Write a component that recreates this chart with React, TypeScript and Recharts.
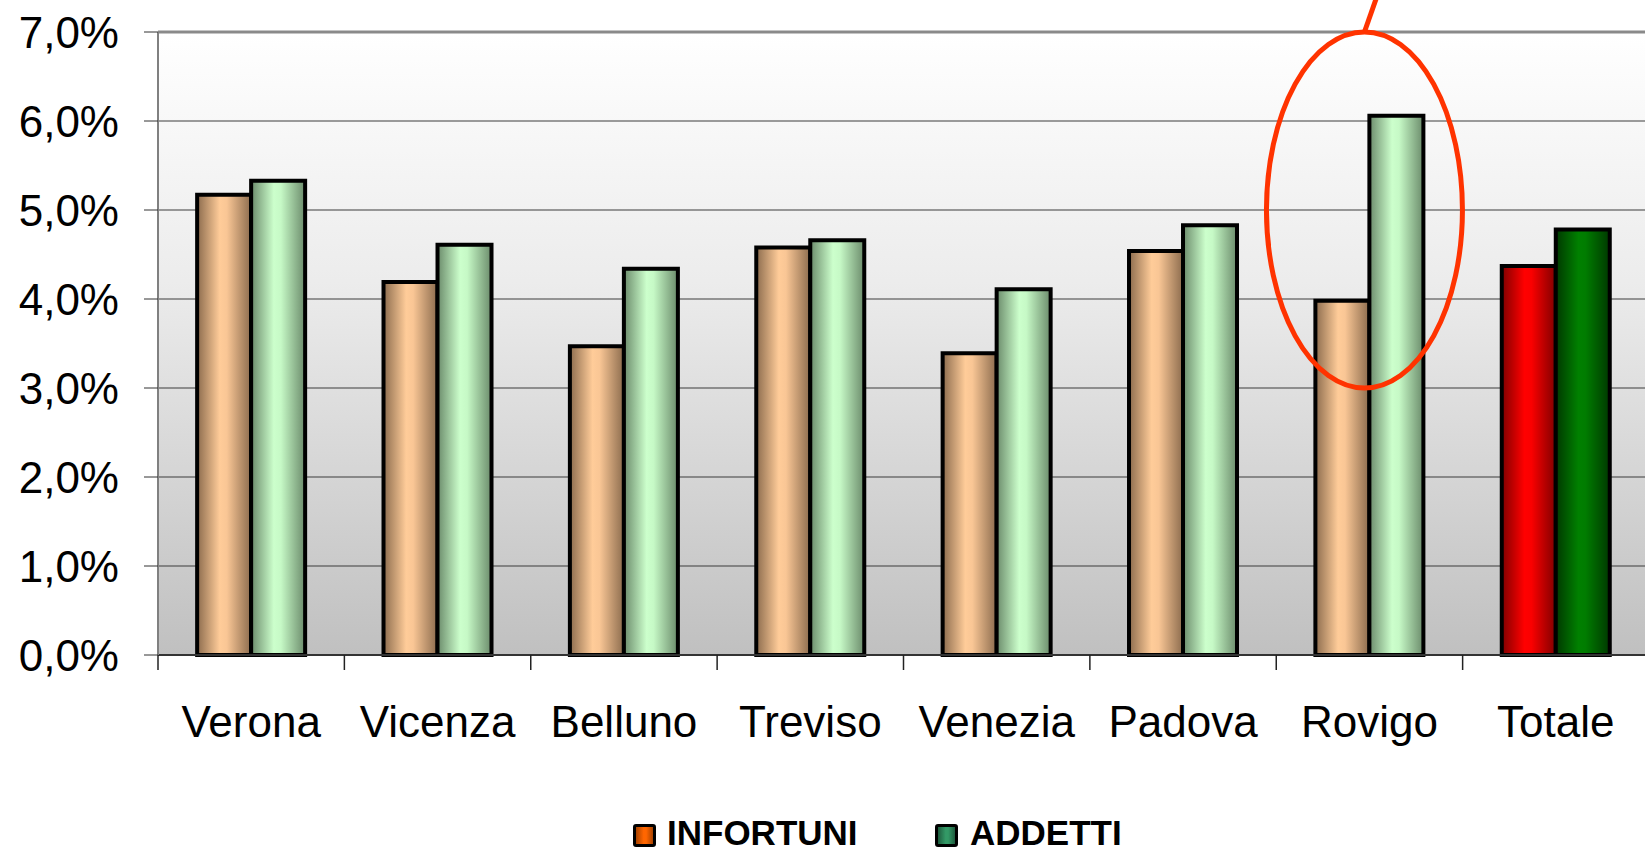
import React from "react";
import {
  Bar,
  BarChart,
  CartesianGrid,
  Cell,
  Legend,
  ReferenceDot,
  ReferenceLine,
  XAxis,
  YAxis,
} from "recharts";

// province names along the x axis
const province = ["Verona", "Vicenza", "Belluno", "Treviso", "Venezia", "Padova", "Rovigo", "Totale"];

// share of accidents (%) per province
const infortuni = [5.17, 4.19, 3.47, 4.58, 3.39, 4.54, 3.98, 4.37];

// share of workers (%) per province
const addetti = [5.33, 4.61, 4.34, 4.66, 4.11, 4.83, 6.06, 4.78];

const yTicks = [0, 1, 2, 3, 4, 5, 6, 7];

const data = province.map((name, i) => ({
  name,
  infortuni: infortuni[i],
  addetti: addetti[i],
}));

const FONT = '"Liberation Sans", Arial, sans-serif';

const fmtPct = (v: number) => v.toFixed(1).replace(".", ",") + "%";

const CatTick = (props: any) => {
  const { x, y, payload } = props;
  const half = payload && payload.offset ? payload.offset : 93;
  return (
    <g>
      <line x1={x - half} x2={x - half} y1={y} y2={y + 15} stroke="#222" strokeWidth={1.5} />
      <text x={x} y={y + 82} textAnchor="middle" fontSize={44} fontFamily={FONT} fill="#000">
        {payload.value}
      </text>
    </g>
  );
};

const LegendBox = () => (
  <div style={{ position: "relative", width: 1645, height: 60, fontFamily: FONT }}>
    <div
      style={{
        position: "absolute", left: 633, top: 31, width: 17, height: 17,
        border: "3px solid #000", borderRadius: 3,
        background: "linear-gradient(to right, #a84300, #ff6600 45%, #ff6600 60%, #a84300)",
      }}
    />
    <div style={{ position: "absolute", left: 667, top: 27, fontSize: 35, fontWeight: "bold", lineHeight: "26px" }}>
      INFORTUNI
    </div>
    <div
      style={{
        position: "absolute", left: 935, top: 31, width: 17, height: 17,
        border: "3px solid #000", borderRadius: 3,
        background: "linear-gradient(to right, #1e5c3e, #339966 45%, #339966 60%, #1e5c3e)",
      }}
    />
    <div style={{ position: "absolute", left: 970, top: 27, fontSize: 35, fontWeight: "bold", lineHeight: "26px" }}>
      ADDETTI
    </div>
  </div>
);

const Highlight = (props: any) => {
  const { cx, cy } = props;
  if (cx == null || cy == null) return null;
  const ex = cx - 5;
  return (
    <g>
      <ellipse cx={ex} cy={cy} rx={98} ry={178} fill="none" stroke="#ff3300" strokeWidth={5} />
      <line x1={ex} y1={cy - 178} x2={ex + 13} y2={cy - 215} stroke="#ff3300" strokeWidth={5} />
    </g>
  );
};

export default function App() {
  return (
    <div style={{ position: "absolute", left: 0, top: 0, width: 1645, height: 853, overflow: "hidden", background: "#fff" }}>
      <BarChart
        width={1660}
        height={853}
        data={data}
        margin={{ top: 32, right: 11, left: 0, bottom: 0 }}
        barCategoryGap="21%"
        barGap={0}
      >
        <defs>
          <linearGradient id="plotBg" x1="0" y1="0" x2="0" y2="1">
            <stop offset="0" stopColor="#ffffff" />
            <stop offset="0.4" stopColor="#ececec" />
            <stop offset="1" stopColor="#c0c0c0" />
          </linearGradient>
          <linearGradient id="gOrange" x1="0" y1="0" x2="1" y2="0">
            <stop offset="0" stopColor="#8c6c4e" />
            <stop offset="0.42" stopColor="#ffcc99" />
            <stop offset="0.55" stopColor="#f9c695" />
            <stop offset="1" stopColor="#8c6c4e" />
          </linearGradient>
          <linearGradient id="gGreen" x1="0" y1="0" x2="1" y2="0">
            <stop offset="0" stopColor="#6b8b6b" />
            <stop offset="0.42" stopColor="#ccffcc" />
            <stop offset="0.55" stopColor="#c6f9c6" />
            <stop offset="1" stopColor="#6b8b6b" />
          </linearGradient>
          <linearGradient id="gRed" x1="0" y1="0" x2="1" y2="0">
            <stop offset="0" stopColor="#800000" />
            <stop offset="0.42" stopColor="#ff0000" />
            <stop offset="0.55" stopColor="#fa0000" />
            <stop offset="1" stopColor="#800000" />
          </linearGradient>
          <linearGradient id="gDkGreen" x1="0" y1="0" x2="1" y2="0">
            <stop offset="0" stopColor="#003800" />
            <stop offset="0.42" stopColor="#008000" />
            <stop offset="0.55" stopColor="#007c00" />
            <stop offset="1" stopColor="#003800" />
          </linearGradient>
        </defs>
        <CartesianGrid vertical={false} stroke="#3c3c3c" strokeWidth={1.2} fill="url(#plotBg)" fillOpacity={1} />
        <XAxis
          dataKey="name"
          height={138}
          tickSize={0}
          tickMargin={0}
          tickLine={false}
          axisLine={{ stroke: "#333", strokeWidth: 2 }}
          tick={<CatTick />}
          interval={0}
        />
        <YAxis
          width={158}
          domain={[0, 7]}
          ticks={yTicks}
          tickFormatter={fmtPct}
          tickSize={14}
          tickMargin={25}
          tickLine={{ stroke: "#333" }}
          axisLine={{ stroke: "#808080", strokeWidth: 2 }}
          tick={{ fontSize: 44, fontFamily: FONT, fill: "#000" }}
          interval={0}
        />
        <ReferenceLine y={7} stroke="#8a8a8a" strokeWidth={3} />
        <Legend
          verticalAlign="bottom"
          height={60}
          content={<LegendBox />}
          wrapperStyle={{ left: 0, top: 793, width: 1645, height: 60 }}
        />
        <Bar dataKey="infortuni" name="INFORTUNI" isAnimationActive={false} stroke="#000" strokeWidth={4} fill="url(#gOrange)">
          {data.map((d) => (
            <Cell key={d.name} fill={d.name === "Totale" ? "url(#gRed)" : "url(#gOrange)"} />
          ))}
        </Bar>
        <Bar dataKey="addetti" name="ADDETTI" isAnimationActive={false} stroke="#000" strokeWidth={4} fill="url(#gGreen)">
          {data.map((d) => (
            <Cell key={d.name} fill={d.name === "Totale" ? "url(#gDkGreen)" : "url(#gGreen)"} />
          ))}
        </Bar>
        <ReferenceDot x="Rovigo" y={5} r={0} ifOverflow="visible" shape={<Highlight />} />
      </BarChart>
    </div>
  );
}
